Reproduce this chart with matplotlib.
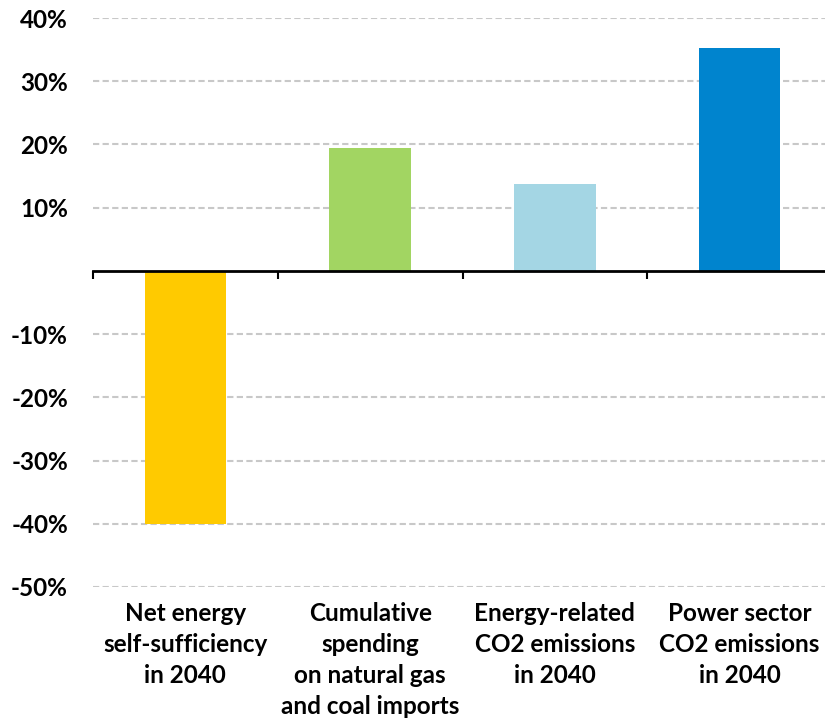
import numpy as np
import matplotlib.pyplot as plt

#-----------------------------------------------------------------------------------------#

categories = ['Net energy\nself-sufficiency\nin 2040',
              'Cumulative\nspending\non natural gas\nand coal imports',
              'Energy-related\nCO2 emissions\nin 2040',
              'Power sector\nCO2 emissions\nin 2040']
values = [-40.0, 19.4, 13.7, 35.3]   # change in %
colors = ['#FFCA00', '#A2D562', '#A4D6E4', '#0084CE']
y_ticks = [40, 30, 20, 10, -10, -20, -30, -40, -50]

#-----------------------------------------------------------------------------------------#

plt.rcParams['font.family'] = ['Lato', 'DejaVu Sans']
plt.rcParams['font.weight'] = 'bold'

fig = plt.figure(figsize=(8.25, 7.22), dpi=100)
ax = fig.add_axes([93 / 825, 135 / 722, 739 / 825, 569 / 722])

x = np.arange(len(categories))
ax.bar(x, values, width=0.44, color=colors, zorder=3)

ax.set_xlim(-0.5, len(categories) - 0.5)
ax.set_ylim(-50, 40)

# dashed grid, no line at zero (axis line sits there)
for yv in y_ticks:
    ax.axhline(yv, color='#c8c8c8', lw=1.5, ls=(0, (3, 1.6)), zorder=1)

for side in ['left', 'right', 'top']:
    ax.spines[side].set_visible(False)
ax.spines['bottom'].set_position(('data', 0))
ax.spines['bottom'].set_linewidth(2)
ax.spines['bottom'].set_color('black')
ax.spines['bottom'].set_zorder(4)

ax.set_xticks(np.arange(len(categories) + 1) - 0.5)
ax.set_xticklabels([])
ax.tick_params(axis='x', direction='out', length=6, width=1.5, color='black')

ax.set_yticks(y_ticks)
ax.set_yticklabels([f'{v}%' for v in y_ticks], fontsize=17.5, fontweight='bold')
ax.tick_params(axis='y', length=0, pad=18)

for i, lab in enumerate(categories):
    ax.annotate(lab, xy=(i, -50), xytext=(0, -11), textcoords='offset points',
                ha='center', va='top', fontsize=17.5, fontweight='bold',
                linespacing=1.42, annotation_clip=False)

fig.savefig('out.png', dpi=100)
